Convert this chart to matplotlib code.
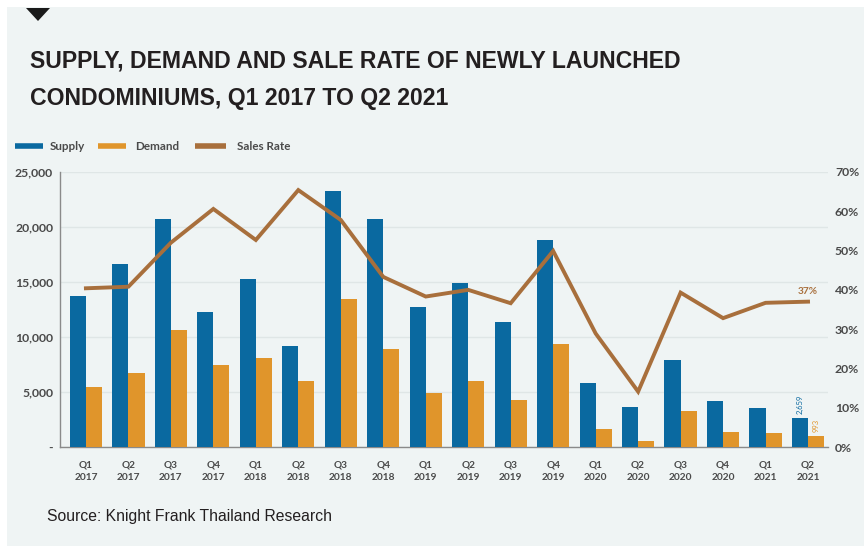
import matplotlib
matplotlib.use("Agg")
import matplotlib.pyplot as plt
from matplotlib.patches import Rectangle, Polygon
from matplotlib.lines import Line2D
from matplotlib.ticker import FuncFormatter, MultipleLocator

# --- data -------------------------------------------------------------
quarters = ["Q1\n2017", "Q2\n2017", "Q3\n2017", "Q4\n2017",
            "Q1\n2018", "Q2\n2018", "Q3\n2018", "Q4\n2018",
            "Q1\n2019", "Q2\n2019", "Q3\n2019", "Q4\n2019",
            "Q1\n2020", "Q2\n2020", "Q3\n2020", "Q4\n2020",
            "Q1\n2021", "Q2\n2021"]
supply = [13700, 16600, 20700, 12300, 15300, 9200, 23300, 20700,
          12750, 14950, 11400, 18800, 5800, 3650, 7950, 4200, 3550, 2659]
demand = [5450, 6700, 10650, 7500, 8100, 6000, 13500, 8900,
          4950, 6000, 4250, 9350, 1650, 550, 3250, 1400, 1300, 993]
sales_rate = [40.4, 40.8, 52.0, 60.6, 52.7, 65.4, 57.8, 43.3,
              38.3, 40.0, 36.6, 49.9, 28.9, 14.1, 39.3, 32.8, 36.7, 37.0]

# --- style ------------------------------------------------------------
BG = "#eff4f4"
BLUE = "#0a69a0"
ORANGE = "#e0952b"
BROWN = "#a86f3c"
TXT = "#4a4a4a"
GRID = "#dfe6e6"
TICK_FONT = "Lato"

W, H = 864, 547
fig = plt.figure(figsize=(W / 100, H / 100), dpi=100)
fig.patch.set_facecolor("white")

def fx(px):
    return px / W

def fy(py):
    return 1 - py / H

# panel background and marker triangle
fig.patches.append(Rectangle((fx(7), fy(546)), fx(W - 7), (539) / H,
                             transform=fig.transFigure, facecolor=BG,
                             edgecolor="none", zorder=-10))
fig.patches.append(Polygon([(fx(26), fy(8)), (fx(50), fy(8)), (fx(38), fy(21))],
                           closed=True, transform=fig.transFigure,
                           facecolor="#1a1a1a", edgecolor="none", zorder=5))

# title
fig.text(fx(30), fy(61), "SUPPLY, DEMAND AND SALE RATE OF NEWLY LAUNCHED",
         fontsize=16.6, fontweight="bold", family="Liberation Sans",
         color="#231f20", va="center", ha="left")
fig.text(fx(30), fy(99), "CONDOMINIUMS, Q1 2017 TO Q2 2021",
         fontsize=16.6, fontweight="bold", family="Liberation Sans",
         color="#231f20", va="center", ha="left")

# source
fig.text(fx(47), fy(517), "Source: Knight Frank Thailand Research",
         fontsize=11.3, family="Liberation Sans", color="#231f20",
         va="center", ha="left")

# legend (hand-placed swatches)
legend_items = [(15, 43, 50, BLUE, "Supply"),
                (98, 126, 135, ORANGE, "Demand"),
                (195, 226, 237, BROWN, "Sales Rate")]
for x0, x1, xt, c, lab in legend_items:
    fig.add_artist(Line2D([fx(x0), fx(x1)], [fy(146), fy(146)],
                          transform=fig.transFigure, color=c, lw=4,
                          solid_capstyle="butt"))
    fig.text(fx(xt), fy(146), lab, fontsize=8.4, fontweight="bold",
             family=TICK_FONT, color=TXT, va="center", ha="left")

# --- axes -------------------------------------------------------------
ax = fig.add_axes([fx(60), fy(447), fx(828 - 60), (447 - 172) / H])
ax.set_facecolor("none")
n = len(quarters)
idx = list(range(n))
bw = 0.38
ax.bar([i - bw / 2 for i in idx], supply, width=bw, color=BLUE, zorder=3)
ax.bar([i + bw / 2 for i in idx], demand, width=bw, color=ORANGE, zorder=3)

ax.set_xlim(-0.61, n - 1 + 0.47)
ax.set_ylim(0, 25000)
ax.yaxis.set_major_locator(MultipleLocator(5000))
ax.yaxis.set_major_formatter(FuncFormatter(lambda v, p: "-" if v == 0 else f"{int(v):,}"))
ax.grid(axis="y", color=GRID, lw=1.0, zorder=0)
ax.set_xticks(idx)
ax.set_xticklabels(quarters, fontsize=7.3, fontweight="bold", family=TICK_FONT,
                   color=TXT, linespacing=1.45)
ax.tick_params(axis="x", length=0, pad=10)
ax.tick_params(axis="y", length=0, pad=5, labelsize=8.8, labelcolor=TXT)
for lab in ax.get_yticklabels():
    lab.set_fontweight("bold")
    lab.set_family(TICK_FONT)
for s in ["top", "right"]:
    ax.spines[s].set_visible(False)
ax.spines["left"].set_color("#8a8a8a")
ax.spines["left"].set_linewidth(1.0)
ax.spines["bottom"].set_color("#8a8a8a")
ax.spines["bottom"].set_linewidth(1.0)

# value labels on the latest quarter's bars
ax.text(n - 1 - bw / 2, supply[-1] + 350, f"{supply[-1]:,}", rotation=90,
        ha="center", va="bottom", fontsize=5.5, color=BLUE, family=TICK_FONT,
        zorder=4)
ax.text(n - 1 + bw / 2, demand[-1] + 350, f"{demand[-1]:,}", rotation=90,
        ha="center", va="bottom", fontsize=5.5, color=ORANGE, family=TICK_FONT,
        zorder=4)

# sales rate on the secondary axis
ax2 = ax.twinx()
ax2.plot(idx, sales_rate, color=BROWN, lw=2.8, zorder=5, solid_joinstyle="miter")
ax2.set_ylim(0, 70)
ax2.yaxis.set_major_locator(MultipleLocator(10))
ax2.yaxis.set_major_formatter(FuncFormatter(lambda v, p: f"{int(v)}%"))
ax2.tick_params(axis="y", length=0, pad=5, labelsize=8.8, labelcolor=TXT)
for lab in ax2.get_yticklabels():
    lab.set_fontweight("bold")
    lab.set_family(TICK_FONT)
for s in ["top", "right", "left", "bottom"]:
    ax2.spines[s].set_visible(False)
ax2.text(n - 1, sales_rate[-1] + 1.5, f"{sales_rate[-1]:.0f}%", ha="center",
         va="bottom", fontsize=7.3, fontweight="bold", color=BROWN,
         family=TICK_FONT)

fig.savefig("out.png", dpi=100, facecolor=fig.get_facecolor())
